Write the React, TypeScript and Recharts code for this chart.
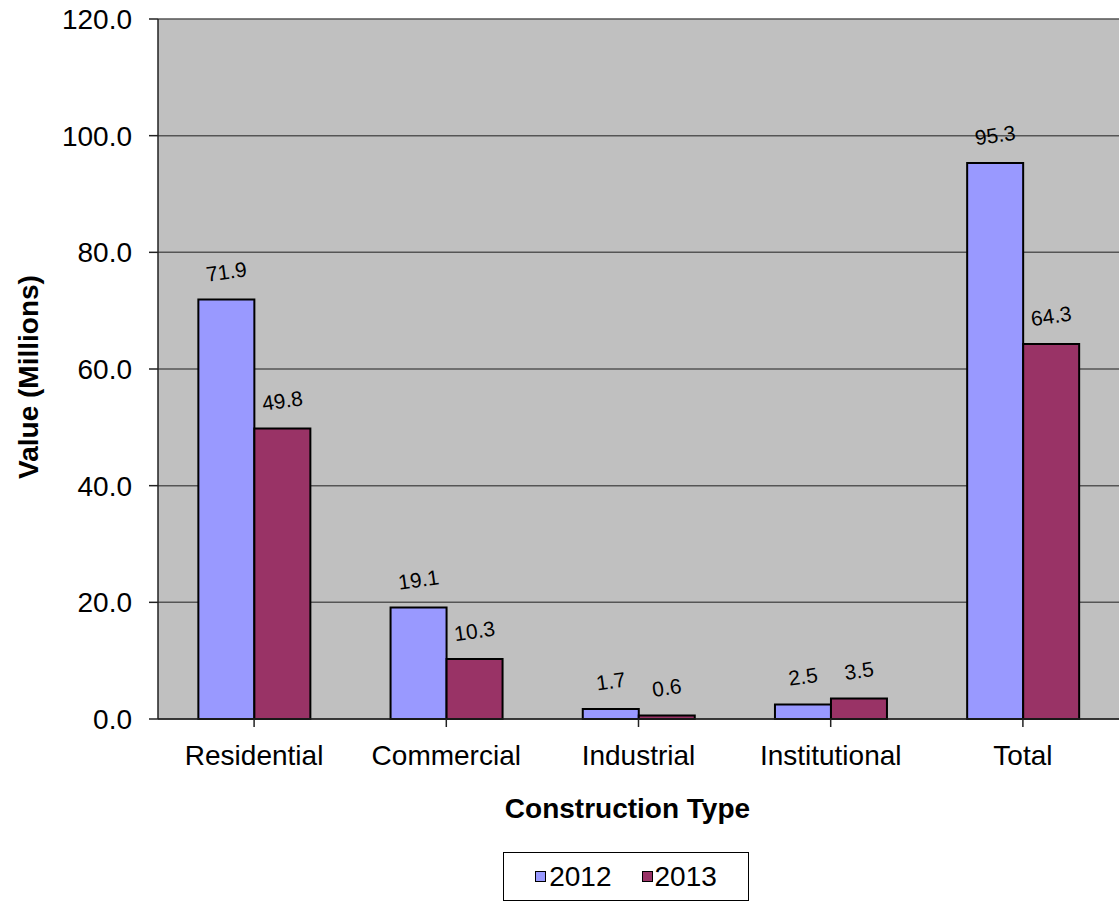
import { BarChart, Bar, XAxis, YAxis, CartesianGrid, Legend, LabelList, Label } from 'recharts';

const categories = ['Residential', 'Commercial', 'Industrial', 'Institutional', 'Total'];
const values2012 = [71.9, 19.1, 1.7, 2.5, 95.3];
const values2013 = [49.8, 10.3, 0.6, 3.5, 64.3];
const yTicks = [0, 20, 40, 60, 80, 100, 120];

const data = categories.map((name, i) => ({ name, y2012: values2012[i], y2013: values2013[i] }));

const FONT = '"Liberation Sans", Arial, sans-serif';

// rotated value label sitting above each bar
const BarValue = (props: any) => {
  const { x, y, width, value } = props;
  const cx = Number(x) + Number(width) / 2;
  const cy = Number(y) - 28;
  return (
    <text
      x={cx}
      y={cy}
      transform={`rotate(-8, ${cx}, ${cy})`}
      textAnchor="middle"
      dominantBaseline="central"
      fontSize={21}
      fontFamily={FONT}
      fill="#000"
    >
      {Number(value).toFixed(1)}
    </text>
  );
};

const LegendBox = () => (
  <div
    style={{
      border: '1px solid #000',
      width: 244,
      height: 47,
      background: '#fff',
      display: 'flex',
      alignItems: 'center',
      justifyContent: 'center',
      fontFamily: FONT,
      fontSize: 28,
      color: '#000',
      boxSizing: 'content-box',
    }}
  >
    <span style={{ display: 'inline-block', width: 9, height: 9, background: '#9999ff', border: '1.5px solid #000', marginRight: 3 }} />
    <span style={{ marginRight: 30 }}>2012</span>
    <span style={{ display: 'inline-block', width: 9, height: 9, background: '#993366', border: '1.5px solid #000', marginRight: 2 }} />
    <span>2013</span>
  </div>
);

export default function App() {
  return (
    <div style={{ position: 'absolute', left: 0, top: 0, width: 1119, height: 902, background: '#fff' }}>
      <BarChart
        width={1119}
        height={902}
        data={data}
        margin={{ top: 19, right: 0, bottom: 0, left: 0 }}
        barGap={0}
        barCategoryGap="21%"
      >
        <CartesianGrid horizontal vertical={false} fill="#c0c0c0" stroke="#555" strokeWidth={1.5} fillOpacity={1} />
        <XAxis
          dataKey="name"
          height={183}
          tickSize={8}
          tickMargin={18}
          stroke="#222"
          strokeWidth={1.5}
          tick={{ fill: '#000', fontSize: 28, fontFamily: FONT }}
          interval={0}
        >
          <Label
            content={({ viewBox }: any) => (
              <text
                x={viewBox.x + viewBox.width / 2 - 11}
                y={818}
                textAnchor="middle"
                fontSize={28}
                fontWeight="bold"
                fontFamily={FONT}
                fill="#000"
              >
                Construction Type
              </text>
            )}
          />
        </XAxis>
        <YAxis
          width={158}
          domain={[0, 120]}
          ticks={yTicks}
          tickFormatter={(v: number) => v.toFixed(1)}
          tickSize={9}
          tickMargin={17}
          stroke="#222"
          strokeWidth={1.5}
          tick={{ fill: '#000', fontSize: 28, fontFamily: FONT }}
        >
          <Label
            content={() => (
              <text
                x={28}
                y={377}
                transform="rotate(-90, 28, 377)"
                textAnchor="middle"
                dominantBaseline="central"
                fontSize={28}
                fontWeight="bold"
                fontFamily={FONT}
                fill="#000"
              >
                Value (Millions)
              </text>
            )}
          />
        </YAxis>
        <Legend
          layout="horizontal"
          verticalAlign="middle"
          align="center"
          content={<LegendBox />}
          wrapperStyle={{ left: 503, top: 852, width: 246, height: 49 }}
        />
        <Bar dataKey="y2012" name="2012" fill="#9999ff" stroke="#000" strokeWidth={2} isAnimationActive={false}>
          <LabelList dataKey="y2012" content={<BarValue />} />
        </Bar>
        <Bar dataKey="y2013" name="2013" fill="#993366" stroke="#000" strokeWidth={2} isAnimationActive={false}>
          <LabelList dataKey="y2013" content={<BarValue />} />
        </Bar>
      </BarChart>
    </div>
  );
}
